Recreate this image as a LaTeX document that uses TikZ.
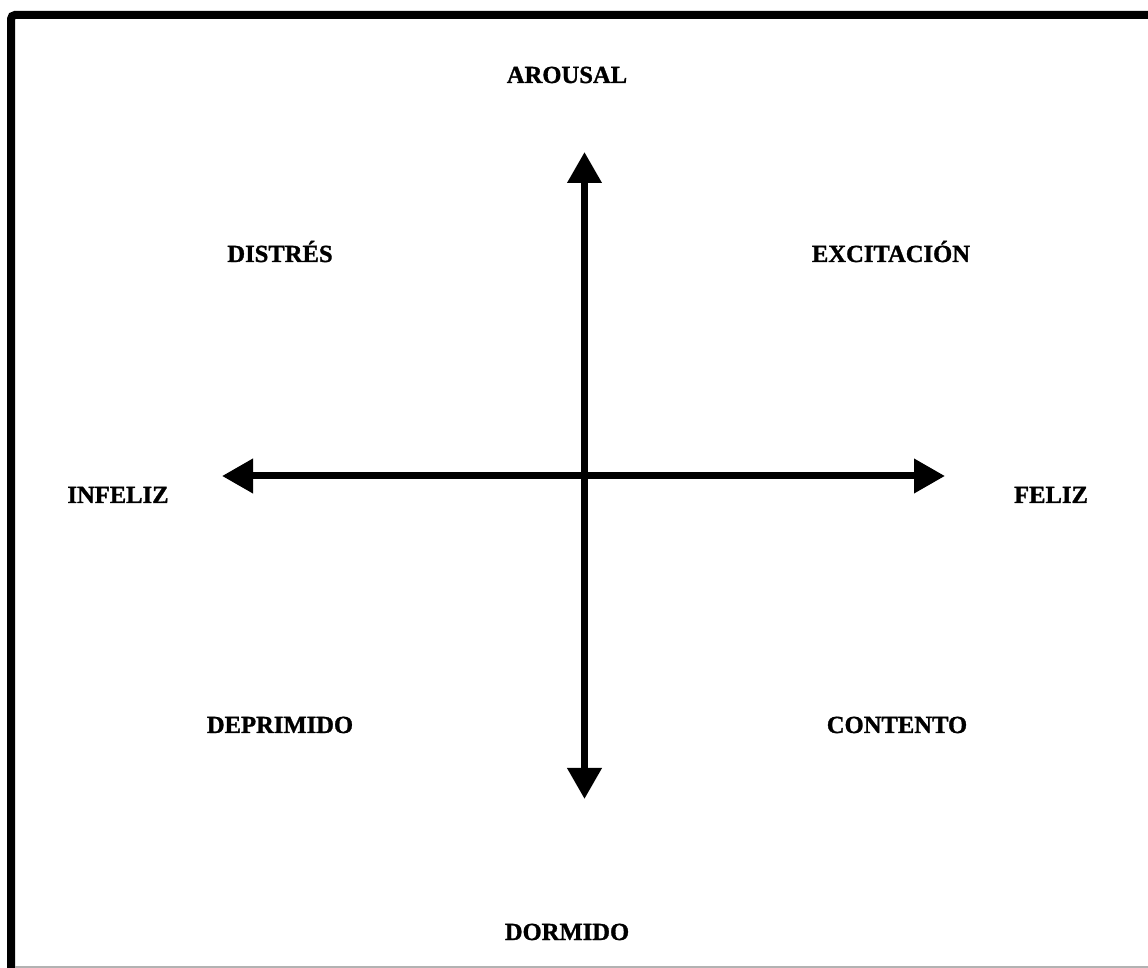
\documentclass[tikz,border=0pt]{standalone}
\usepackage{fontspec}
\setmainfont{Liberation Serif}[BoldFeatures={FakeBold=1.2}]
\usetikzlibrary{arrows.meta}
\begin{document}
\begin{tikzpicture}[x=0.5pt,y=-0.5pt,
  lbl/.style={font=\fontsize{12.3pt}{14pt}\selectfont\bfseries, anchor=base, inner sep=0pt},
  axis/.style={line width=3.5pt, -{Triangle[length=15.5pt,width=16.5pt]}},
  frame/.style={line width=4pt, rounded corners=2pt}]
\useasboundingbox (0,0) rectangle (1148,968);
% frame
\draw[frame] (11,975) -- (11,15) -- (1160,15);
\draw[gray!60, line width=0.6pt] (15,967) -- (1148,967);
% axis endpoints
\coordinate (c) at (584.5,476);
\coordinate (top) at (584.5,152);
\coordinate (bot) at (584.5,799);
\coordinate (left) at (222,476);
\coordinate (right) at (945,476);
\draw[axis] (c) -- (top);
\draw[axis] (c) -- (bot);
\draw[axis] (c) -- (left);
\draw[axis] (c) -- (right);
% labels
\node[lbl] (arousal) at (567,83) {AROUSAL};
\node[lbl] (distres) at (280,262) {DISTRÉS};
\node[lbl] (excit) at (891,262) {EXCITACIÓN};
\node[lbl] (infeliz) at (118,503) {INFELIZ};
\node[lbl] (feliz) at (1051,503) {FELIZ};
\node[lbl] (deprim) at (280,733) {DEPRIMIDO};
\node[lbl] (content) at (897,733) {CONTENTO};
\node[lbl] (dormido) at (567,940) {DORMIDO};
\end{tikzpicture}
\end{document}
